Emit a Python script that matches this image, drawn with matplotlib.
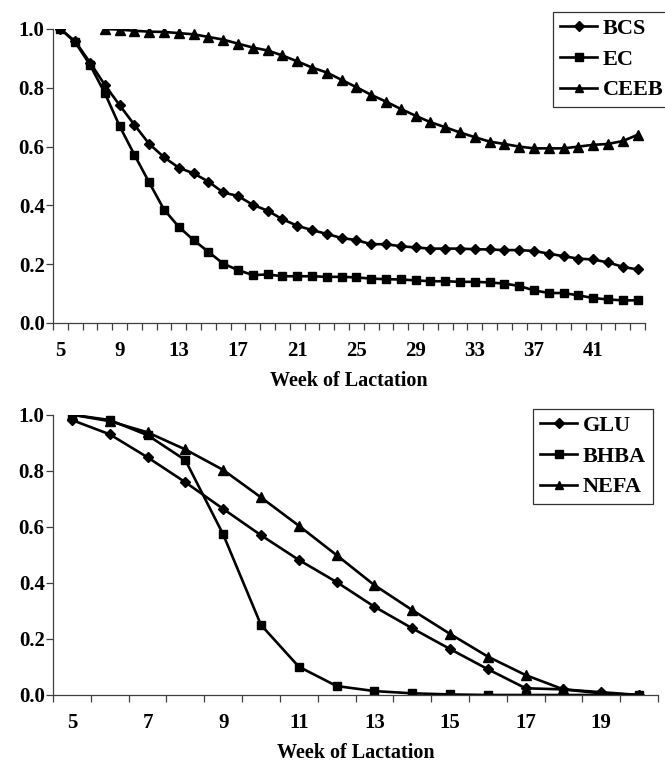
import matplotlib
matplotlib.use("Agg")
import matplotlib.pyplot as plt
import numpy as np

plt.rcParams['font.family'] = ['Liberation Serif', 'DejaVu Serif']
plt.rcParams['font.weight'] = 'bold'

# ---- Top panel data (weeks 5..44) ----
weeks_top = list(range(5, 45))
bcs = [1.0, 0.958, 0.886, 0.810, 0.741, 0.674, 0.609, 0.564, 0.528, 0.509,
       0.481, 0.444, 0.432, 0.402, 0.382, 0.353, 0.331, 0.316, 0.303, 0.289,
       0.282, 0.268, 0.268, 0.261, 0.257, 0.253, 0.253, 0.253, 0.251, 0.250,
       0.248, 0.248, 0.245, 0.236, 0.227, 0.219, 0.216, 0.206, 0.191, 0.182]
ec = [1.0, 0.955, 0.878, 0.782, 0.670, 0.572, 0.478, 0.386, 0.327, 0.282,
      0.242, 0.202, 0.180, 0.163, 0.165, 0.159, 0.159, 0.159, 0.157, 0.157,
      0.155, 0.151, 0.149, 0.148, 0.145, 0.142, 0.142, 0.140, 0.140, 0.138,
      0.134, 0.126, 0.111, 0.102, 0.102, 0.094, 0.085, 0.080, 0.077, 0.077]
weeks_ceeb = list(range(8, 45))
ceeb = [1.0, 0.998, 0.994, 0.991, 0.990, 0.986, 0.982, 0.973, 0.964, 0.950,
        0.937, 0.927, 0.910, 0.890, 0.869, 0.852, 0.827, 0.802, 0.776, 0.753,
        0.728, 0.705, 0.683, 0.666, 0.648, 0.632, 0.617, 0.609, 0.600, 0.594,
        0.594, 0.594, 0.600, 0.606, 0.609, 0.619, 0.640]
top_ticklabels = [5, 9, 13, 17, 21, 25, 29, 33, 37, 41]

# ---- Bottom panel data (weeks 5..20) ----
weeks_bot = list(range(5, 21))
glu = [0.981, 0.930, 0.848, 0.759, 0.664, 0.570, 0.482, 0.403, 0.315, 0.238,
       0.164, 0.092, 0.024, 0.020, 0.010, 0.0]
bhba = [1.0, 0.981, 0.927, 0.838, 0.573, 0.250, 0.101, 0.032, 0.014, 0.006,
        0.002, 0.0, 0.0, 0.0, 0.0, 0.0]
nefa = [1.0, 0.977, 0.937, 0.876, 0.803, 0.705, 0.604, 0.499, 0.392, 0.303,
        0.218, 0.137, 0.071, 0.020, 0.006, 0.0]
bot_ticklabels = [5, 7, 9, 11, 13, 15, 17, 19]

yticks = [0.0, 0.2, 0.4, 0.6, 0.8, 1.0]

W, H = 665, 763
fig = plt.figure(figsize=(W / 100, H / 100), dpi=100)

def px_axes(l, r, t, b):
    return fig.add_axes([l / W, 1 - b / H, (r - l) / W, (b - t) / H])

ax1 = px_axes(53, 645, 29, 323)
ax2 = px_axes(53, 658, 414.7, 695)

lw = 1.9
kw_d = dict(color='black', lw=lw, marker='D', markersize=5.6)
kw_s = dict(color='black', lw=lw, marker='s', markersize=6.3)
kw_t = dict(color='black', lw=lw, marker='^', markersize=7.5)

ax1.plot(weeks_top, bcs, label='BCS', **kw_d)
ax1.plot(weeks_top, ec, label='EC', **kw_s)
ax1.plot(weeks_ceeb, ceeb, label='CEEB', **kw_t)

ax2.plot(weeks_bot, glu, label='GLU', **kw_d)
ax2.plot(weeks_bot, bhba, label='BHBA', **kw_s)
ax2.plot(weeks_bot, nefa, label='NEFA', **kw_t)

spine_col = '#404040'
for ax, weeks, labels, lpad in [(ax1, weeks_top, top_ticklabels, 7),
                                (ax2, weeks_bot, bot_ticklabels, 7)]:
    ax.set_xlim(weeks[0] - 0.5, weeks[-1] + 0.5)
    ax.set_ylim(0, 1.0)
    ax.spines['top'].set_visible(False)
    ax.spines['right'].set_visible(False)
    for s in ['left', 'bottom']:
        ax.spines[s].set_color(spine_col)
        ax.spines[s].set_linewidth(0.9)
    ax.set_yticks(yticks)
    ax.set_yticklabels([f"{v:.1f}" for v in yticks])
    ax.set_xticks(labels)
    ax.set_xticklabels([str(v) for v in labels])
    ax.set_xticks(np.arange(weeks[0] - 0.5, weeks[-1] + 1.0, 1.0), minor=True)
    ax.tick_params(axis='x', which='major', length=0, pad=13, labelsize=15)
    ax.tick_params(axis='x', which='minor', length=5, width=0.9, color=spine_col, direction='out')
    ax.tick_params(axis='y', which='major', length=5, width=0.9, color=spine_col, pad=1, labelsize=15)
    for lab in ax.get_xticklabels() + ax.get_yticklabels():
        lab.set_fontweight('bold')
    ax.set_xlabel('Week of Lactation', fontsize=14.5, fontweight='bold', labelpad=lpad)

leg_kw = dict(fontsize=16, frameon=True, fancybox=False, handlelength=1.7,
              handletextpad=0.25, labelspacing=0.45, borderpad=0.3,
              borderaxespad=0, edgecolor='black', markerscale=0.85)
leg1 = ax1.legend(loc='lower left', bbox_to_anchor=(553 / W, 1 - 107 / H),
                  bbox_transform=fig.transFigure, **leg_kw)
leg2 = ax2.legend(loc='upper left', bbox_to_anchor=(533 / W, 1 - 409 / H),
                  bbox_transform=fig.transFigure, **leg_kw)
for leg in (leg1, leg2):
    leg.get_frame().set_linewidth(0.9)
    for t in leg.get_texts():
        t.set_fontweight('bold')

fig.savefig('out.png', dpi=100)
